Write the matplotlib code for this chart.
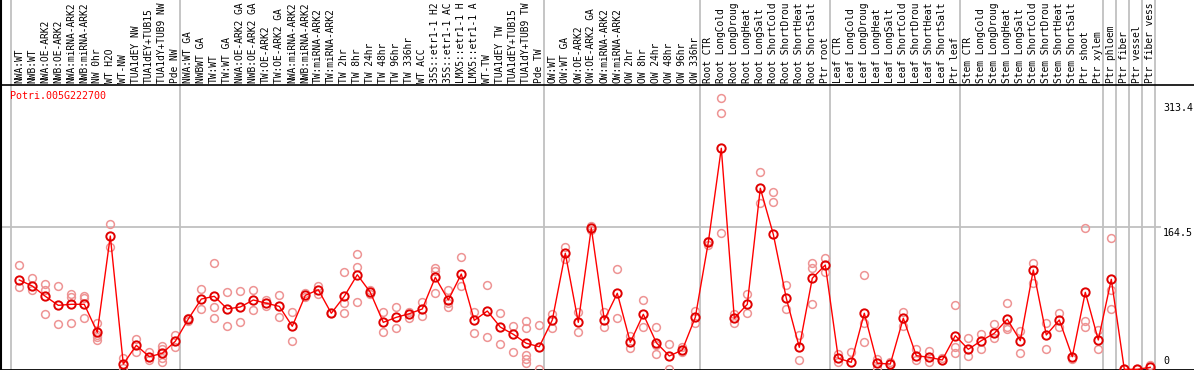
import matplotlib
matplotlib.use("Agg")
import matplotlib.pyplot as plt

gene = "Potri.005G222700"

# header labels as they show in the picture (cut at 14 characters)
labels = [
    "NWA:WT", "NWB:WT", "NWA:OE-ARK2", "NWB:OE-ARK2", "NWA:miRNA-ARK2",
    "NWB:miRNA-ARK2", "NW 0hr", "WT H2O", "WT-NW", "TUA1dEY NW",
    "TUA1dEY+TUB15", "TUA1dY+TUB9 NW", "Pde NW",
    "NWA:WT GA", "NWBWT GA", "TW:WT", "TW:WT GA", "NWA:OE-ARK2 GA",
    "NWB:OE-ARK2 GA", "TW:OE-ARK2", "TW:OE-ARK2 GA", "NWA:miRNA-ARK2",
    "NWB:miRNA-ARK2", "TW:miRNA-ARK2", "TW:miRNA-ARK2", "TW 2hr", "TW 8hr",
    "TW 24hr", "TW 48hr", "TW 96hr", "TW 336hr", "WT ACC", "35S::etr1-1 H2",
    "35S::etr1-1 AC", "LMX5::etr1-1 H", "LMX5::etr1-1 A", "WT-TW",
    "TUA1dEY TW", "TUA1dEY+TUB15", "TUA1dY+TUB9 TW", "Pde TW",
    "OW:WT", "OW:WT GA", "OW:OE-ARK2", "OW:OE-ARK2 GA", "OW:miRNA-ARK2",
    "OW:miRNA-ARK2", "OW 2hr", "OW 8hr", "OW 24hr", "OW 48hr", "OW 96hr",
    "OW 336hr",
    "Root CTR", "Root LongCold", "Root LongDroug", "Root LongHeat",
    "Root LongSalt", "Root ShortCold", "Root ShortDrou", "Root ShortHeat",
    "Root ShortSalt", "Ptr root",
    "Leaf CTR", "Leaf LongCold", "Leaf LongDroug", "Leaf LongHeat",
    "Leaf LongSalt", "Leaf ShortCold", "Leaf ShortDrou", "Leaf ShortHeat",
    "Leaf ShortSalt", "Ptr leaf",
    "Stem CTR", "Stem LongCold", "Stem LongDroug", "Stem LongHeat",
    "Stem LongSalt", "Stem ShortCold", "Stem ShortDrou", "Stem ShortHeat",
    "Stem ShortSalt", "Ptr shoot", "Ptr xylem", "Ptr phloem", "Ptr fiber",
    "Ptr vessel", "Ptr fiber vess",
]

means = [
    103.6, 96.6, 84.7, 74.2, 75.4, 75.4, 42.9, 154.6, 6.1, 27.8,
    14.6, 18.6, 32.5, 58.3, 81.5, 84.7, 70.0, 72.3, 80.4, 76.6,
    73.0, 49.9, 85.8, 92.3, 65.0, 84.7, 109.7, 89.3, 54.5, 60.3,
    64.5, 70.0, 106.7, 80.4, 110.5, 56.8, 67.6, 49.0, 40.6, 30.2,
    26.2, 57.2, 134.6, 54.5, 164.0, 57.2, 88.2, 31.3, 63.8, 30.9,
    15.4, 22.4, 60.3, 147.3, 256.4, 59.2, 75.4, 210.0, 156.6, 82.4,
    25.5, 105.6, 121.0, 12.8, 8.1, 65.0, 7.0, 6.1, 59.2, 15.8,
    13.9, 10.8, 39.0, 23.2, 33.2, 41.8, 58.0, 33.2, 115.2, 39.8,
    57.2, 14.6, 89.3, 34.0, 104.4, 0.0, 0.0, 2.3,
]

replicates = [
    [121, 95], [105.6, 92], [99, 92, 63.8], [96.3, 52.2], [87.3, 84.2, 53.4],
    [85, 82.4, 59.2], [53.4, 39.8, 37.1, 34], [168.5, 142.2], [12.8, 1.2],
    [35.5, 19.7], [20.4, 10.8], [27, 23.2, 12.8, 8.8], [39.8, 25.5],
    [60, 56], [92.8, 69.6], [123, 71.9, 59.2], [89.3, 50.2], [90.8, 54.5],
    [91.6, 68.4], [80.4, 73.4], [85.8, 60.3], [66.1, 32.5], [88, 84],
    [97, 87], [65], [112.5, 77.3, 65], [133.4, 118.7, 77.7], [91.6, 86.8],
    [66.8, 43.6], [72.6, 47.6], [66.8, 59.2], [77.7, 61.5],
    [117.9, 114, 88.9], [92, 76.6, 72.6], [130, 96.6], [66.8, 41.8],
    [97.4, 37.5], [65, 29], [50.6, 20.4], [56, 47.6, 16.6, 11.6, 7],
    [51, 0], [63.8, 48.3], [142.2, 127.6], [66, 43], [166, 162],
    [66.8, 48.7], [116.3, 59.9], [39, 24.4], [80, 48.7], [48.7, 28.2, 17.4],
    [29, 0], [26, 20], [67.6, 53.4], [149, 144], [314.4, 297, 158.5],
    [63.8, 53.8], [87.3, 65], [228.5, 192.6], [205.3, 194.4], [97.8, 69.6],
    [39.8, 10.8], [123.7, 117.2, 75.4], [129.5, 113.2], [18, 8], [19.7],
    [109.4, 53.4, 31.3], [12, 2], [8], [66.8, 50], [23, 11], [21, 8], [13],
    [74.6, 25.5, 18.6], [36, 15.4], [41, 24], [52.2, 36], [77.3, 49.4, 46.4],
    [44.8, 18.6], [123.7, 99.8], [54.2, 24], [65.4, 49.4], [12],
    [163.6, 56.4, 48.7], [45.6, 23], [152, 92, 70], [0], [0], [5],
]

# group separators come after these sample numbers
group_ends = [0, 13, 41, 53, 63, 73, 84, 85, 86, 87, 88]

y_ticks = [0, 164.5, 313.4]


def main():
    plt.rcParams["font.family"] = ["DejaVu Sans Mono"]
    fs = 7.2
    fig = plt.figure(figsize=(11.94, 3.70), dpi=100)
    ax = fig.add_axes([0, 0, 1, 1])
    ax.set_axis_off()

    # pixel layout: sample i sits at 6.3 + 13*i px, value 0 at 369.3 px from top
    ax.set_xlim(-6.3 / 13, (1194 - 6.3) / 13)
    ax.set_ylim(-0.7 * 1.16, 369.3 * 1.16)
    header_y = (369.3 - 85) * 1.16
    grey = "#c0c0c0"

    for k in group_ends:
        ax.axvline(k + 0.36, color=grey, lw=1.3, zorder=1)
    ax.plot([-0.5, 88.75], [y_ticks[1], y_ticks[1]], color=grey, lw=1.3, zorder=1)

    ax.axhline(header_y, color="black", lw=1.2, zorder=2)
    ax.axhline(-0.3, color="black", lw=2, zorder=2)
    ax.axvline(-0.41, color="black", lw=1.5, zorder=2)

    xs = list(range(1, len(means) + 1))
    for x, reps in zip(xs, replicates):
        ax.plot([x] * len(reps), reps, "o", ms=5.6, mfc="none", mec="#ee9494",
                mew=1.1, zorder=3, clip_on=False)
    ax.plot(xs, means, "-", color="red", lw=1, zorder=4)
    ax.plot(xs, means, "o", ms=6.0, mfc="none", mec="#e00000", mew=1.4,
            zorder=5)

    for x, lab in zip(xs, labels):
        ax.text(x, header_y + 2, lab, rotation=90, ha="center", va="bottom",
                fontsize=6.9, color="black")

    ax.text(0.285, 322.5, gene, color="red", fontsize=fs, ha="left", va="top")

    lab_x = (1163 - 6.3) / 13
    ax.text(lab_x, 309, "313.4", fontsize=fs, ha="left", va="top")
    ax.text(lab_x, 163.5, "164.5", fontsize=fs, ha="left", va="top")
    ax.text(lab_x, 4, "0", fontsize=fs, ha="left", va="bottom")

    fig.savefig("out.png", dpi=100)


if __name__ == "__main__":
    main()
